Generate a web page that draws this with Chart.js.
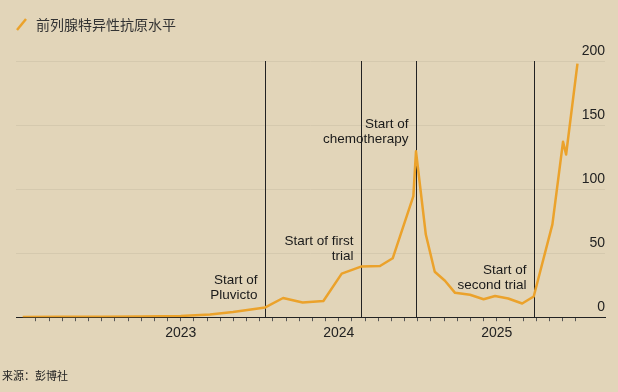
<!DOCTYPE html>
<html><head><meta charset="utf-8">
<script src="https://cdn.jsdelivr.net/npm/chart.js@4.4.0/dist/chart.umd.min.js"></script>
<style>
html,body{margin:0;padding:0;background:#e2d5b9;}
#wrap{position:relative;width:618px;height:392px;overflow:hidden;background:#e2d5b9;}
canvas{position:absolute;left:0;top:0;}
#legend{position:absolute;left:16px;top:14px;height:20px;display:flex;align-items:center;font-family:"Noto Sans CJK SC";font-size:14px;color:#333;white-space:nowrap;}
#legend svg{margin-right:9px;}
#source{position:absolute;left:2px;top:367px;font-family:"Noto Sans CJK SC";font-size:11px;color:#222;white-space:nowrap;}
</style></head>
<body>
<div id="wrap">
<canvas id="c" width="618" height="392"></canvas>
<div id="legend"><svg width="11" height="13"><line x1="1" y1="12" x2="10" y2="1" stroke="#eba22b" stroke-width="2.5"/></svg><span>前列腺特异性抗原水平</span></div>
<div id="source">来源：彭博社</div>
</div>
<script>
// ---- data ----
const dates = ['2022-01-01','2022-04-01','2022-07-01','2022-10-01','2023-01-01','2023-03-08','2023-04-30','2023-07-14',
  '2023-08-25','2023-10-09','2023-11-26','2024-01-08','2024-02-21','2024-04-05','2024-05-04','2024-06-21','2024-06-27',
  '2024-07-20','2024-08-10','2024-09-03','2024-09-26','2024-10-31','2024-12-01','2024-12-28','2025-01-28','2025-02-27',
  '2025-03-26','2025-05-08','2025-06-02','2025-06-09','2025-07-05'];
const psaValues = [0.2,0.3,0.4,0.6,1.0,2.1,4.1,7.6,
  15,11.5,12.7,34,39.5,40,46,94.5,129.5,
  64.5,35.5,28.5,19,17.5,14,16.5,14.6,10.7,
  16.2,72.5,137,127,198];
const eventDates = ['2023-07-14','2024-02-22','2024-06-28','2025-03-27'];
const eventLabels = [['Start of','Pluvicto'],['Start of first','trial'],['Start of','chemotherapy'],['Start of','second trial']];
const eventLabelLevels = [28.9, 59.6, 150.6, 36.7];
const yTicks = [0,50,100,150,200];
const monthTicks = Array.from({length:42},(_,i)=>i+1);

function toMonth(s){const [y,m,d]=s.split('-').map(Number);const dim=new Date(Date.UTC(y,m,0)).getUTCDate();return (y-2022)*12+(m-1)+(d-1)/dim;}

const FONT = "'Liberation Sans', Arial, sans-serif";
const eventPlugin = {
  id:'events',
  beforeDatasetsDraw(chart){
    const {ctx, scales:{x,y}} = chart;
    ctx.save();
    eventDates.forEach((d,i)=>{
      const px = Math.round(x.getPixelForValue(toMonth(d)))+0.5;
      ctx.strokeStyle='#222';ctx.lineWidth=1;
      ctx.beginPath();ctx.moveTo(px,y.getPixelForValue(200));ctx.lineTo(px,y.getPixelForValue(0));ctx.stroke();
      ctx.fillStyle='#1a1a1a';ctx.font='13.5px '+FONT;ctx.textAlign='right';ctx.textBaseline='middle';
      const y0 = y.getPixelForValue(eventLabelLevels[i]);
      eventLabels[i].forEach((t,j)=>ctx.fillText(t,px-8,y0+j*15));
    });
    ctx.restore();
  }
};

new Chart(document.getElementById('c'),{
  type:'line',
  data:{datasets:[{data:dates.map((d,i)=>({x:toMonth(d),y:psaValues[i]})),borderColor:'#eba22b',borderWidth:2.5,pointRadius:0,tension:0,fill:false,borderJoinStyle:'round'}]},
  options:{
    responsive:false,animation:false,devicePixelRatio:1,
    layout:{padding:{left:16,right:13,top:61,bottom:46}},
    plugins:{legend:{display:false},tooltip:{enabled:false}},
    scales:{
      x:{type:'linear',min:-0.51,max:44.22,
        afterBuildTicks:s=>{s.ticks=monthTicks.map(v=>({value:v}));},
        grid:{display:true,drawOnChartArea:false,drawTicks:true,tickLength:4,tickColor:'#555',lineWidth:1},
        border:{display:true,color:'#222',width:1},
        ticks:{autoSkip:false,maxRotation:0,minRotation:0,padding:4,color:'#222',font:{family:FONT,size:14},
          callback:v=>v%12===0?String(2022+v/12):''}},
      y:{position:'right',min:0,max:200,
        afterBuildTicks:s=>{s.ticks=yTicks.map(v=>({value:v}));},
        grid:{color:'#d5c9ae',drawTicks:false,lineWidth:1},
        border:{display:false},
        ticks:{mirror:true,padding:0,labelOffset:-10,color:'#222',font:{family:FONT,size:14}}}
    }
  },
  plugins:[eventPlugin]
});
</script>
</body></html>
